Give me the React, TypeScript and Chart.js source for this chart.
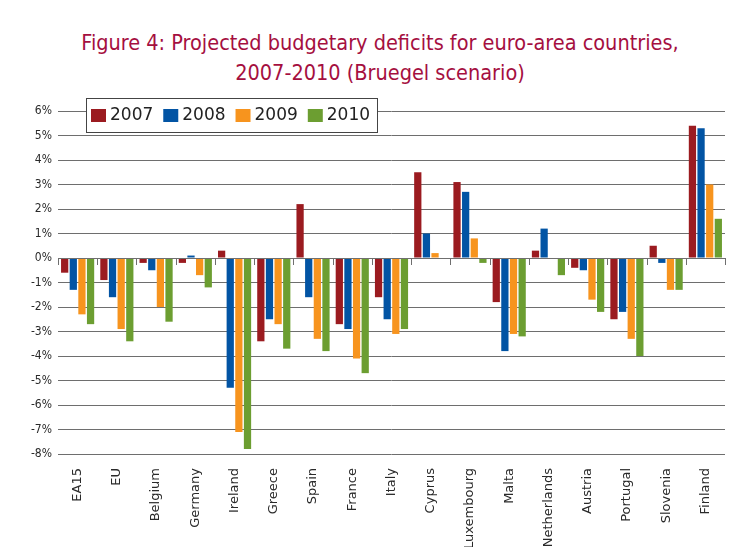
import React, { useEffect, useRef } from "react";
import { Chart, registerables } from "chart.js";
Chart.register(...registerables);

const categories = ["EA15", "EU", "Belgium", "Germany", "Ireland", "Greece", "Spain", "France", "Italy", "Cyprus", "Luxembourg", "Malta", "Netherlands", "Austria", "Portugal", "Slovenia", "Finland"];
const seriesLabels = ["2007", "2008", "2009", "2010"];
const values2007 = [-0.6, -0.9, -0.2, -0.2, 0.3, -3.4, 2.2, -2.7, -1.6, 3.5, 3.1, -1.8, 0.3, -0.4, -2.5, 0.5, 5.4];
const values2008 = [-1.3, -1.6, -0.5, 0.1, -5.3, -2.5, -1.6, -2.9, -2.5, 1.0, 2.7, -3.8, 1.2, -0.5, -2.2, -0.2, 5.3];
const values2009 = [-2.3, -2.9, -2.0, -0.7, -7.1, -2.7, -3.3, -4.1, -3.1, 0.2, 0.8, -3.1, 0, -1.7, -3.3, -1.3, 3.0];
const values2010 = [-2.7, -3.4, -2.6, -1.2, -7.8, -3.7, -3.8, -4.7, -2.9, 0, -0.2, -3.2, -0.7, -2.2, -4.0, -1.3, 1.6];
const seriesColors = ["#9B1B20", "#0254A4", "#F7941E", "#6C9E31"];
const yMin = -8;
const yMax = 6;
const titleLines = ["Figure 4: Projected budgetary deficits for euro-area countries,", "2007-2010 (Bruegel scenario)"];

const zeroTicks = {
  id: "zeroTicks",
  afterDatasetsDraw(chart: any) {
    const { ctx, scales } = chart;
    const x = scales.x;
    const y = scales.y;
    const y0 = Math.round(y.getPixelForValue(0));
    const n = categories.length;
    ctx.save();
    ctx.strokeStyle = "#6f6f6f";
    ctx.lineWidth = 1;
    ctx.beginPath();
    ctx.moveTo(x.left, y0 + 0.5);
    ctx.lineTo(x.right, y0 + 0.5);
    ctx.stroke();
    for (let i = 0; i <= n; i++) {
      const px = Math.round(x.left + (x.width * i) / n) + 0.5;
      ctx.beginPath();
      ctx.moveTo(px, y0);
      ctx.lineTo(px, y0 + 7);
      ctx.stroke();
    }
    ctx.restore();
  },
};

const boxLegend = {
  id: "boxLegend",
  afterDraw(chart: any) {
    const { ctx, chartArea } = chart;
    ctx.save();
    ctx.font = "17px 'DejaVu Sans'";
    const x0 = Math.round(chartArea.left + 28);
    const y0 = Math.round(chartArea.top - 13);
    const h = 34;
    const items = chart.data.datasets.map((d: any) => ({
      label: d.label,
      color: d.backgroundColor,
      w: ctx.measureText(d.label).width,
    }));
    let total = 5;
    items.forEach((it: any, i: number) => {
      total += 15 + 4 + it.w + (i < items.length - 1 ? 10 : 7);
    });
    total = Math.round(total);
    ctx.fillStyle = "#fff";
    ctx.fillRect(x0, y0, total, h);
    ctx.strokeStyle = "#444";
    ctx.lineWidth = 1;
    ctx.strokeRect(x0 + 0.5, y0 + 0.5, total, h);
    let cx = x0 + 5;
    const cy = y0 + h / 2;
    items.forEach((it: any) => {
      ctx.fillStyle = it.color;
      ctx.fillRect(cx, Math.round(cy - 6.5), 15, 13);
      cx += 19;
      ctx.fillStyle = "#222";
      ctx.textBaseline = "middle";
      ctx.textAlign = "left";
      ctx.fillText(it.label, cx, cy + 1);
      cx += it.w + 10;
    });
    ctx.restore();
  },
};

export default function App() {
  const ref = useRef<HTMLCanvasElement | null>(null);
  useEffect(() => {
    if (!ref.current) return;
    const allSeries = [values2007, values2008, values2009, values2010];
    const chart = new Chart(ref.current, {
      type: "bar",
      data: {
        labels: categories,
        datasets: seriesLabels.map((label, i) => ({
          label,
          data: allSeries[i],
          backgroundColor: seriesColors[i],
          borderWidth: 0,
          categoryPercentage: 0.88,
          barPercentage: 0.84,
        })),
      },
      options: {
        responsive: false,
        animation: false,
        devicePixelRatio: 1,
        layout: { padding: { top: 103, right: 27, left: 0, bottom: 0 } },
        plugins: {
          legend: { display: false },
          title: { display: false },
          tooltip: { enabled: false },
        },
        scales: {
          x: {
            grid: { display: false },
            border: { display: false },
            ticks: {
              autoSkip: false,
              maxRotation: 90,
              minRotation: 90,
              padding: 6,
              color: "#2a2a2a",
              font: { family: "'DejaVu Sans'", size: 13 },
            },
            afterFit: (s: any) => {
              s.height = 93;
            },
          },
          y: {
            min: yMin,
            max: yMax,
            grid: { color: "#6e6e6e", lineWidth: 1, drawTicks: false },
            border: { display: false },
            ticks: {
              stepSize: 1,
              padding: 6,
              color: "#2a2a2a",
              font: { family: "'DejaVu Sans Condensed', 'DejaVu Sans'", size: 12 },
              callback: (v: any) => v + "%",
            },
            afterFit: (s: any) => {
              s.width = 50;
            },
          },
        },
      },
      plugins: [zeroTicks, boxLegend],
    });
    return () => chart.destroy();
  }, []);

  return (
    <div
      style={{
        position: "relative",
        width: 747,
        height: 560,
        boxSizing: "border-box",
        borderTop: "1px solid #777",
        borderLeft: "1px solid #777",
        borderRight: "2px solid #666",
        margin: "-1px 0 0 -1px",
        background: "#fff",
      }}
    >
      <div
        style={{
          position: "absolute",
          top: 20,
          left: 0,
          width: "100%",
          textAlign: "center",
          color: "#A50F3F",
          fontFamily: "'Liberation Sans Narrow', 'DejaVu Sans Condensed', sans-serif",
          fontSize: 21.5,
          lineHeight: "30px",
        }}
      >
        {titleLines.map((t) => (
          <div key={t}>{t}</div>
        ))}
      </div>
      <canvas ref={ref} width={744} height={539} style={{ position: "absolute", left: 0, top: 0, display: "block" }} />
    </div>
  );
}
